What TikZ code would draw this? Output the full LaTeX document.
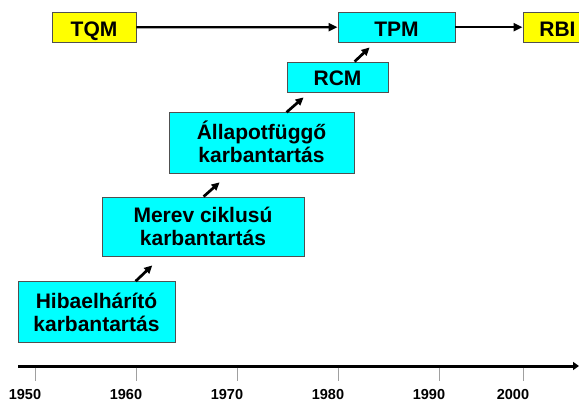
\documentclass[tikz,border=0pt]{standalone}
\usepackage{fontspec}
\setmainfont{Liberation Sans}
\usetikzlibrary{arrows.meta}
\definecolor{boxcyan}{HTML}{00FFFF}
\definecolor{boxyellow}{HTML}{FFFF00}
\definecolor{boxedge}{HTML}{505050}
\definecolor{tickgray}{HTML}{A0A0A0}
% invisible struts that give every two-line label the same height and depth
\newcommand{\uppad}{\rule{0pt}{19pt}}
\newcommand{\lowpad}{\rule[-3pt]{0pt}{0pt}}
\begin{document}
\begin{tikzpicture}[x=1pt,y=-1pt,
  stage/.style={draw=boxedge, line width=0.8pt, rectangle, inner sep=0pt,
    align=center, font=\fontsize{21}{23}\selectfont\bfseries},
  oneline/.style={text height=17.8pt, text depth=0pt},
  method/.style={stage, fill=boxcyan},
  standard/.style={stage, fill=boxyellow},
  flow/.style={line width=2.3pt, -{Triangle[length=9pt,width=8pt]}},
  diag/.style={line width=2.7pt, -{Triangle[length=8pt,width=7.5pt]}},
  axisline/.style={line width=3pt, -{Triangle[length=6pt,width=8pt]}},
  tickmark/.style={draw=tickgray, line width=1pt},
  year/.style={font=\fontsize{14.5}{15}\selectfont\bfseries, anchor=base, inner sep=0pt}]
\clip (0,0) rectangle (579,401);
\fill[white] (0,0) rectangle (579,401);

% quality / maintenance concepts on the top row
\node[standard, oneline, minimum width=84pt, minimum height=30.5pt] (tqm) at (94,27.3) {TQM};
\node[method, oneline, minimum width=117pt, minimum height=30.3pt] (tpm) at (396.5,27.2) {TPM};
\node[standard, oneline, minimum width=69pt, minimum height=30.3pt] (rbi) at (557.5,27.2) {RBI};

% maintenance strategies, stepping upwards
\node[method, oneline, minimum width=101pt, minimum height=30pt] (rcm) at (337.5,77) {RCM};
\node[method, minimum width=185pt, minimum height=60.3pt] (allapot) at (261.5,142.8)
  {\uppad Állapotfüggő\\karbantartás\lowpad};
\node[method, minimum width=202pt, minimum height=59pt] (merev) at (203,226.5)
  {\uppad Merev ciklusú\\karbantartás\lowpad};
\node[method, minimum width=157pt, minimum height=60.3pt] (hiba) at (96.5,311.8)
  {\uppad Hibaelhárító\\karbantartás\lowpad};

% connectors
\draw[flow] (tqm.east) -- (tpm.west);
\draw[flow] (tpm.east) -- (rbi.west);
\draw[diag] ([xshift=118pt]hiba.north west) -- ([xshift=50.7pt,yshift=-9pt]merev.south west);
\draw[diag] ([xshift=102pt]merev.north west) -- ([xshift=51pt,yshift=-9pt]allapot.south west);
\draw[diag] ([xshift=118pt]allapot.north west) -- ([xshift=17pt,yshift=-5pt]rcm.south west);
\draw[diag] ([xshift=68pt]rcm.north west) -- ([xshift=32pt,yshift=-4.7pt]tpm.south west);

% time axis
\coordinate (axstart) at (18,366);
\coordinate (axend) at (579,366);
\draw[axisline] (axstart) -- (axend);
\foreach \tx/\lx/\yr in {35/25/1950, 136/126/1960, 237/227/1970, 338/328/1980, 439/429/1990, 523/513/2000}{
  \draw[tickmark] (\tx,367.5) -- (\tx,381);
  \node[year] (y\yr) at (\lx,399.5) {\yr};
}
\end{tikzpicture}
\end{document}
